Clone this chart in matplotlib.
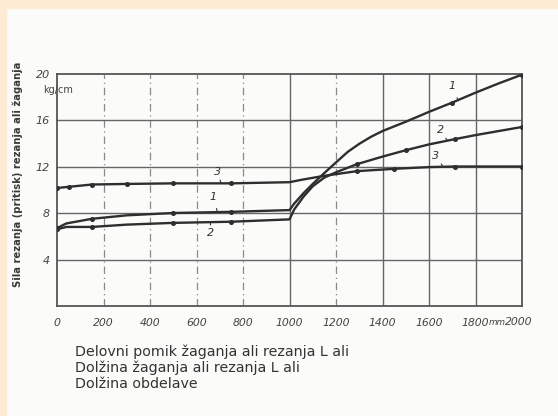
import matplotlib
matplotlib.use('Agg')
import matplotlib.pyplot as plt
import matplotlib.patches as mpatches

# Data (cutting force vs. travel).
x1 = [0, 40, 150, 300, 500, 750, 1000, 1020, 1060, 1100, 1145, 1200, 1250, 1300, 1350, 1400, 1500, 1600, 1700, 1800, 1900, 2000]
y1 = [6.7, 7.1, 7.5, 7.8, 8.0, 8.1, 8.25, 8.8, 9.7, 10.5, 11.35, 12.35, 13.25, 13.95, 14.55, 15.05, 15.85, 16.7, 17.5, 18.35, 19.15, 19.9]
m1 = [0, 2, 4, 5, 18, 21]

x2 = [0, 40, 150, 300, 500, 750, 1000, 1020, 1060, 1100, 1150, 1200, 1290, 1400, 1500, 1600, 1710, 1800, 1900, 2000]
y2 = [6.6, 6.8, 6.8, 7.0, 7.15, 7.25, 7.45, 8.3, 9.4, 10.3, 11.05, 11.5, 12.2, 12.85, 13.4, 13.9, 14.35, 14.7, 15.05, 15.4]
m2 = [0, 2, 4, 5, 12, 14, 16, 19]

x3 = [0, 50, 150, 300, 500, 750, 1000, 1050, 1150, 1290, 1450, 1600, 1710, 2000]
y3 = [10.15, 10.25, 10.45, 10.5, 10.55, 10.55, 10.65, 10.85, 11.2, 11.6, 11.8, 11.95, 12.0, 12.0]
m3 = [0, 1, 2, 3, 4, 5, 9, 10, 12, 13]

x_ticks = [0, 200, 400, 600, 800, 1000, 1200, 1400, 1600, 1800, 2000]
x_labels = ['0', '200', '400', '600', '800', '1000', '1200', '1400', '1600', '1800', '']
y_ticks = [4, 8, 12, 16, 20]
y_labels = ['4', '8', '12', '16', '20']
dashed_x = [200, 400, 600, 800, 1200]
solid_x = [1000, 1400, 1600, 1800]

caption = ['Delovni pomik žaganja ali rezanja L ali',
           'Dolžina žaganja ali rezanja L ali',
           'Dolžina obdelave']

ink = '#2e2e2e'
grid = '#8a8a8a'
tick_col = '#444444'

fig = plt.figure(figsize=(5.58, 4.16), dpi=100)
fig.patch.set_facecolor('#fbfbfa')
# peach border of the screenshot
fig.patches.append(mpatches.Rectangle((0, 1 - 8 / 416), 1, 8 / 416, transform=fig.transFigure,
                                      color='#fdebd3', zorder=0))
fig.patches.append(mpatches.Rectangle((0, 0), 6 / 558, 1, transform=fig.transFigure,
                                      color='#fdebd3', zorder=0))

ax = fig.add_axes([57 / 558, 1 - 306 / 416, (522 - 57) / 558, (306 - 73.5) / 416])
ax.set_facecolor('none')
ax.set_xlim(0, 2000)
ax.set_ylim(0, 20)

# grid, mixed like the scan
for xv in dashed_x:
    ax.axvline(xv, color=grid, lw=0.9, ls=(0, (6, 3, 1, 3)), zorder=1)
for xv in solid_x:
    ax.axvline(xv, color='#666666', lw=1.0, zorder=1)
for yv in y_ticks[:-1]:
    ax.axhline(yv, color='#666666', lw=1.0, zorder=1)

for s in ax.spines.values():
    s.set_color('#555555')
    s.set_linewidth(1.3)

for xs, ys, mk in [(x1, y1, m1), (x2, y2, m2), (x3, y3, m3)]:
    ax.plot(xs, ys, color=ink, lw=1.7, marker='o', ms=2.6, markevery=mk, zorder=3)

ax.set_xticks(x_ticks)
ax.set_xticklabels(x_labels, fontstyle='italic', fontsize=7.8, color=tick_col)
ax.set_yticks(y_ticks)
ax.set_yticklabels(y_labels, fontstyle='italic', fontsize=8, color=tick_col)
ax.tick_params(axis='x', length=0, pad=9)
ax.tick_params(axis='y', length=0, pad=5)
# last x label sits just left of the axis end, with the unit before it
ax.text(1985, -1.4, '2000', fontsize=7.8, fontstyle='italic', color=tick_col, ha='center', va='center')
ax.text(1893, -1.4, 'mm', fontsize=6.3, fontstyle='italic', color=tick_col, ha='center', va='center')
ax.text(-60, 18.6, 'kg/cm', fontsize=7, color=tick_col, ha='left', va='center')

# curve numbers with small leader ticks
labels = [('1', 1700, 18.9, 1725, 17.7), ('2', 1650, 15.1, 1680, 14.2),
          ('3', 1630, 12.9, 1660, 12.0), ('3', 690, 11.5, 705, 10.6),
          ('1', 670, 9.4, 690, 8.1), ('2', 660, 6.3, 660, 7.2)]
for t, tx, ty, px, py in labels:
    ax.annotate(t, xy=(px, py), xytext=(tx, ty), fontsize=8, fontstyle='italic', color='#333333',
                ha='center', va='center',
                arrowprops=dict(arrowstyle='-', color='#333333', lw=0.8, shrinkA=3, shrinkB=0))

fig.text(18 / 558, 1 - 174 / 416, 'Sila rezanja (pritisk) rezanja ali žaganja', rotation=90,
         fontsize=7.2, fontweight='bold', color='#3a3a3a', ha='center', va='center')

for i, line in enumerate(caption):
    fig.text(75 / 558, 1 - (352 + 16 * i) / 416, line, fontsize=10.3, color='#333333',
             ha='left', va='center')

fig.savefig('out.png', dpi=100, facecolor=fig.get_facecolor())
